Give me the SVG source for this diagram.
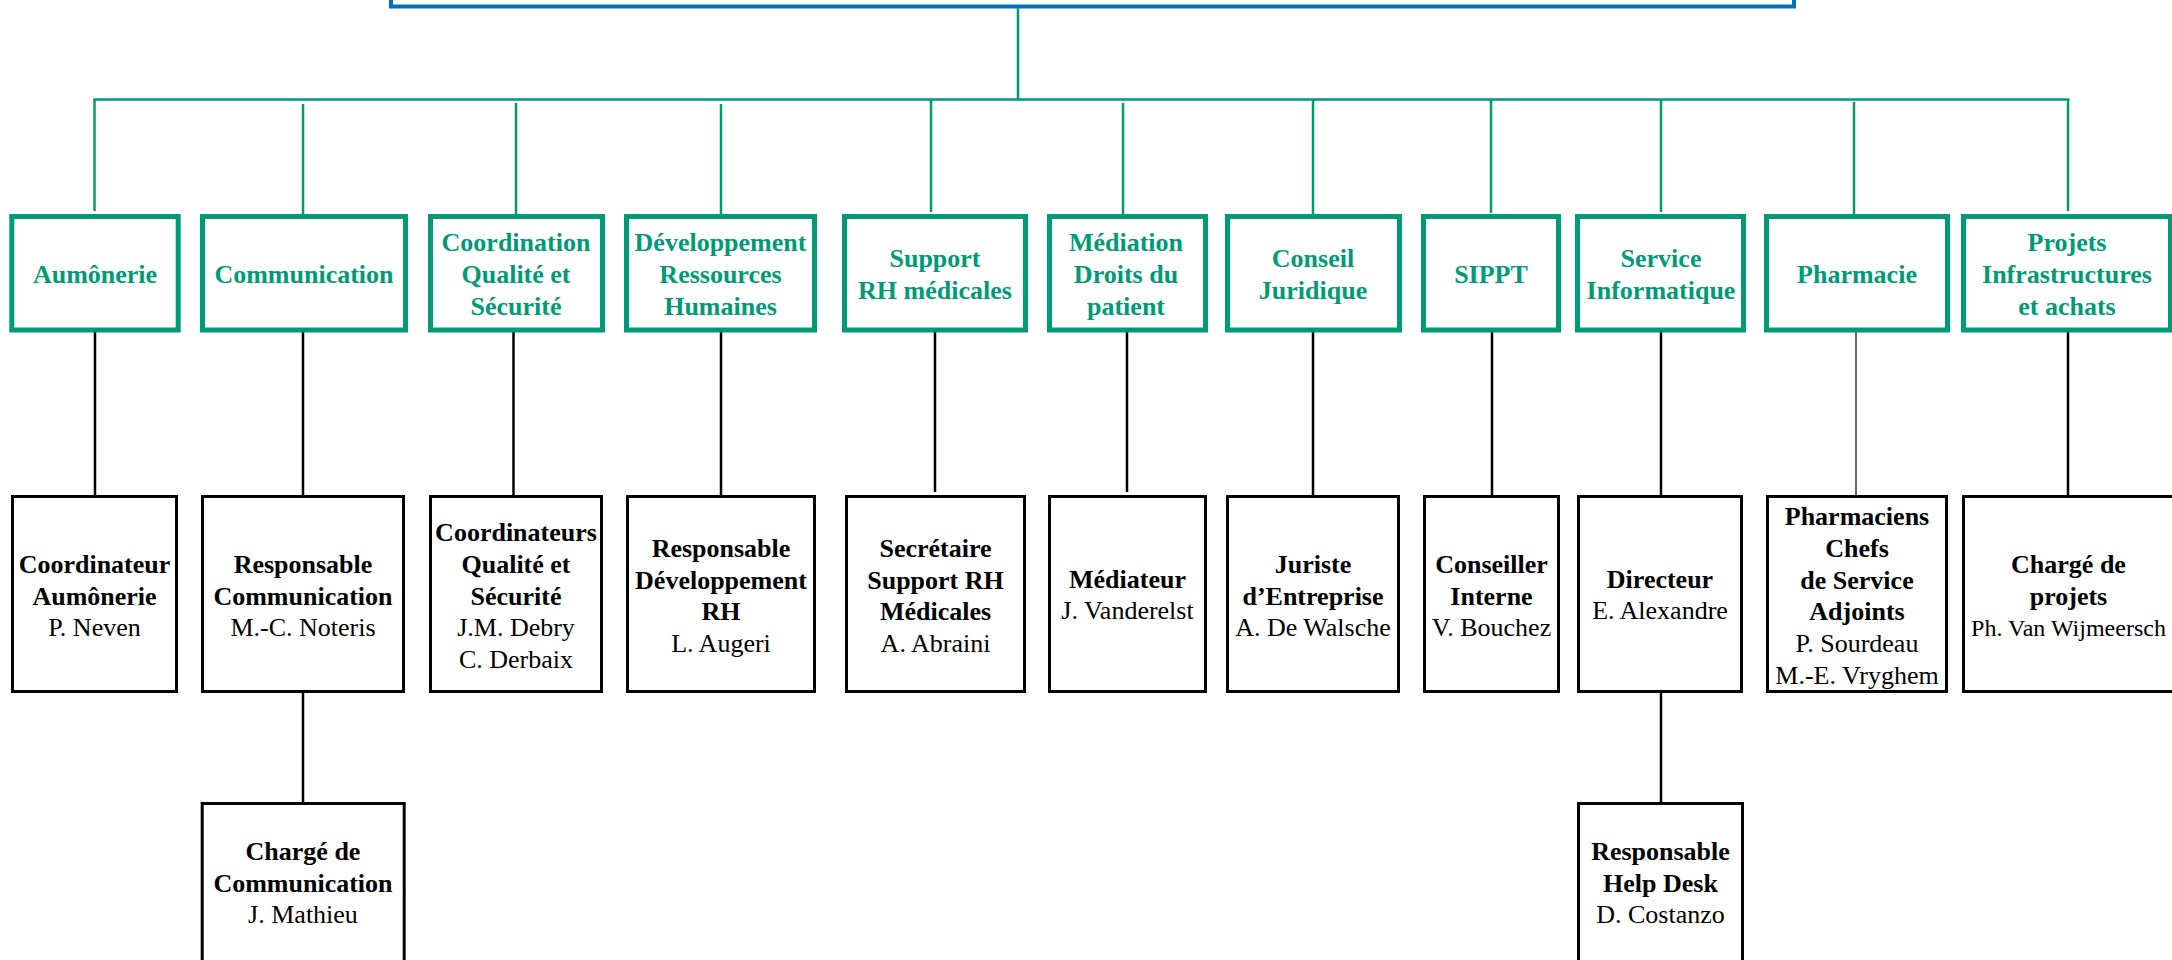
<svg xmlns="http://www.w3.org/2000/svg" width="2172" height="960" viewBox="0 0 2172 960">
<style>
  text { font-family: "Liberation Serif", "Times New Roman", serif; font-size: 26px; text-anchor: middle; }
  .g { fill: #009a77; font-weight: bold; }
  .b { fill: #000; font-weight: bold; }
  .n { fill: #000; font-weight: normal; }
  .gbox { fill: #fff; stroke: #009a77; stroke-width: 5; }
  .kbox { fill: #fff; stroke: #000; stroke-width: 3; }
  .gl { stroke: #009a77; stroke-width: 2.5; fill: none; }
  .kl { stroke: #000; stroke-width: 2.5; fill: none; }
</style>
<rect width="2172" height="960" fill="#fff"/>

<g id="top">
  <rect x="391" y="-20" width="1403" height="26.5" fill="#fff" stroke="#0070c0" stroke-width="4"/>
</g>

<g id="connectors">
  <line class="gl" x1="1018" y1="8" x2="1018" y2="99.5"/>
  <line class="gl" x1="93.5" y1="99.5" x2="2069.5" y2="99.5"/>
  <line class="gl" x1="94.5" y1="99" x2="94.5" y2="211"/>
  <line class="gl" x1="303" y1="104" x2="303" y2="214"/>
  <line class="gl" x1="516" y1="103" x2="516" y2="214"/>
  <line class="gl" x1="721" y1="104" x2="721" y2="214"/>
  <line class="gl" x1="931" y1="99" x2="931" y2="212"/>
  <line class="gl" x1="1123" y1="103" x2="1123" y2="214"/>
  <line class="gl" x1="1313" y1="99" x2="1313" y2="214"/>
  <line class="gl" x1="1491" y1="99" x2="1491" y2="213"/>
  <line class="gl" x1="1661" y1="99" x2="1661" y2="212"/>
  <line class="gl" x1="1854" y1="102" x2="1854" y2="214"/>
  <line class="gl" x1="2068" y1="99" x2="2068" y2="211"/>

  <line class="kl" x1="95" y1="332" x2="95" y2="495"/>
  <line class="kl" x1="303" y1="332" x2="303" y2="495"/>
  <line class="kl" x1="513.5" y1="332" x2="513.5" y2="495"/>
  <line class="kl" x1="721" y1="332" x2="721" y2="495"/>
  <line class="kl" x1="935" y1="332" x2="935" y2="492"/>
  <line class="kl" x1="1127" y1="332" x2="1127" y2="492"/>
  <line class="kl" x1="1313" y1="332" x2="1313" y2="495"/>
  <line class="kl" x1="1492" y1="332" x2="1492" y2="495"/>
  <line class="kl" x1="1661" y1="332" x2="1661" y2="495"/>
  <line x1="1856" y1="332" x2="1856" y2="495" stroke="#000" stroke-width="1.2"/>
  <line class="kl" x1="2068" y1="332" x2="2068" y2="495"/>

  <line class="kl" x1="303" y1="693" x2="303" y2="802"/>
  <line class="kl" x1="1661" y1="693" x2="1661" y2="802"/>
</g>

<g id="aumonerie">
  <rect class="gbox" x="11.8" y="216.5" width="166.4" height="113.5"/>
  <text class="g" x="95" y="283">Aumônerie</text>
</g>
<g id="communication">
  <rect class="gbox" x="202.5" y="216.5" width="203" height="113.5"/>
  <text class="g" x="304" y="283">Communication</text>
</g>
<g id="coordination">
  <rect class="gbox" x="430.5" y="216.5" width="172" height="113.5"/>
  <text class="g" x="516" y="251.3">Coordination</text>
  <text class="g" x="516" y="283">Qualité et</text>
  <text class="g" x="516" y="314.7">Sécurité</text>
</g>
<g id="developpement">
  <rect class="gbox" x="626.5" y="216.5" width="188" height="113.5"/>
  <text class="g" x="720.5" y="251.3">Développement</text>
  <text class="g" x="720.5" y="283">Ressources</text>
  <text class="g" x="720.5" y="314.7">Humaines</text>
</g>
<g id="support">
  <rect class="gbox" x="844.5" y="216.5" width="181" height="113.5"/>
  <text class="g" x="935" y="266.5">Support</text>
  <text class="g" x="935" y="298.5">RH médicales</text>
</g>
<g id="mediation">
  <rect class="gbox" x="1049.5" y="216.5" width="156" height="113.5"/>
  <text class="g" x="1126" y="251.3">Médiation</text>
  <text class="g" x="1126" y="283">Droits du</text>
  <text class="g" x="1126" y="314.7">patient</text>
</g>
<g id="conseil">
  <rect class="gbox" x="1227.5" y="216.5" width="172" height="113.5"/>
  <text class="g" x="1313" y="266.5">Conseil</text>
  <text class="g" x="1313" y="298.5">Juridique</text>
</g>
<g id="sippt">
  <rect class="gbox" x="1423.5" y="216.5" width="135" height="113.5"/>
  <text class="g" x="1491" y="283">SIPPT</text>
</g>
<g id="informatique">
  <rect class="gbox" x="1577.5" y="216.5" width="166" height="113.5"/>
  <text class="g" x="1661" y="266.5">Service</text>
  <text class="g" x="1661" y="298.5">Informatique</text>
</g>
<g id="pharmacie">
  <rect class="gbox" x="1766.5" y="216.5" width="181" height="113.5"/>
  <text class="g" x="1857" y="283">Pharmacie</text>
</g>
<g id="projets">
  <rect class="gbox" x="1963.5" y="216.5" width="207" height="113.5"/>
  <text class="g" x="2067" y="251.3">Projets</text>
  <text class="g" x="2067" y="283">Infrastructures</text>
  <text class="g" x="2067" y="314.7">et achats</text>
</g>

<g id="coord-aumonerie">
  <rect class="kbox" x="12.5" y="496.5" width="164" height="195"/>
  <text class="b" x="94.5" y="572.8">Coordinateur</text>
  <text class="b" x="94.5" y="604.5">Aumônerie</text>
  <text class="n" x="94.5" y="636.2">P. Neven</text>
</g>
<g id="resp-communication">
  <rect class="kbox" x="202.5" y="496.5" width="201" height="195"/>
  <text class="b" x="303" y="572.8">Responsable</text>
  <text class="b" x="303" y="604.5">Communication</text>
  <text class="n" x="303" y="636.2">M.-C. Noteris</text>
</g>
<g id="coord-qualite">
  <rect class="kbox" x="430.5" y="496.5" width="171" height="195"/>
  <text class="b" x="516" y="541.1">Coordinateurs</text>
  <text class="b" x="516" y="572.8">Qualité et</text>
  <text class="b" x="516" y="604.5">Sécurité</text>
  <text class="n" x="516" y="636.2">J.M. Debry</text>
  <text class="n" x="516" y="667.9">C. Derbaix</text>
</g>
<g id="resp-developpement">
  <rect class="kbox" x="627.5" y="496.5" width="187" height="195"/>
  <text class="b" x="721" y="556.9">Responsable</text>
  <text class="b" x="721" y="588.6">Développement</text>
  <text class="b" x="721" y="620.3">RH</text>
  <text class="n" x="721" y="652">L. Augeri</text>
</g>
<g id="secretaire">
  <rect class="kbox" x="846.5" y="496.5" width="178" height="195"/>
  <text class="b" x="935.5" y="556.9">Secrétaire</text>
  <text class="b" x="935.5" y="588.6">Support RH</text>
  <text class="b" x="935.5" y="620.3">Médicales</text>
  <text class="n" x="935.5" y="652">A. Abraini</text>
</g>
<g id="mediateur">
  <rect class="kbox" x="1049.5" y="496.5" width="156" height="195"/>
  <text class="b" x="1127.5" y="587.5">Médiateur</text>
  <text class="n" x="1127.5" y="619.2">J. Vanderelst</text>
</g>
<g id="juriste">
  <rect class="kbox" x="1227.5" y="496.5" width="171" height="195"/>
  <text class="b" x="1313" y="572.8">Juriste</text>
  <text class="b" x="1313" y="604.5">d’Entreprise</text>
  <text class="n" x="1313" y="636.2">A. De Walsche</text>
</g>
<g id="conseiller">
  <rect class="kbox" x="1424.5" y="496.5" width="134" height="195"/>
  <text class="b" x="1491.5" y="572.8">Conseiller</text>
  <text class="b" x="1491.5" y="604.5">Interne</text>
  <text class="n" x="1491.5" y="636.2">V. Bouchez</text>
</g>
<g id="directeur">
  <rect class="kbox" x="1578.5" y="496.5" width="163" height="195"/>
  <text class="b" x="1660" y="587.5">Directeur</text>
  <text class="n" x="1660" y="619.2">E. Alexandre</text>
</g>
<g id="pharmaciens">
  <rect class="kbox" x="1767.5" y="496.5" width="179" height="195"/>
  <text class="b" x="1857" y="525.3">Pharmaciens</text>
  <text class="b" x="1857" y="557">Chefs</text>
  <text class="b" x="1857" y="588.7">de Service</text>
  <text class="b" x="1857" y="620.4">Adjoints</text>
  <text class="n" x="1857" y="652.1">P. Sourdeau</text>
  <text class="n" x="1857" y="683.8">M.-E. Vryghem</text>
</g>
<g id="charge-projets">
  <rect class="kbox" x="1963.5" y="496.5" width="210" height="195"/>
  <text class="b" x="2068.5" y="572.8">Chargé de</text>
  <text class="b" x="2068.5" y="604.5">projets</text>
  <text class="n" x="2068.5" y="636.2" style="font-size:24px">Ph. Van Wijmeersch</text>
</g>

<g id="charge-communication">
  <rect class="kbox" x="202.2" y="803.5" width="202" height="160"/>
  <text class="b" x="303" y="860">Chargé de</text>
  <text class="b" x="303" y="891.7">Communication</text>
  <text class="n" x="303" y="923.4">J. Mathieu</text>
</g>
<g id="helpdesk">
  <rect class="kbox" x="1578.5" y="803.5" width="164" height="160"/>
  <text class="b" x="1660.5" y="860">Responsable</text>
  <text class="b" x="1660.5" y="891.7">Help Desk</text>
  <text class="n" x="1660.5" y="923.4">D. Costanzo</text>
</g>
</svg>
